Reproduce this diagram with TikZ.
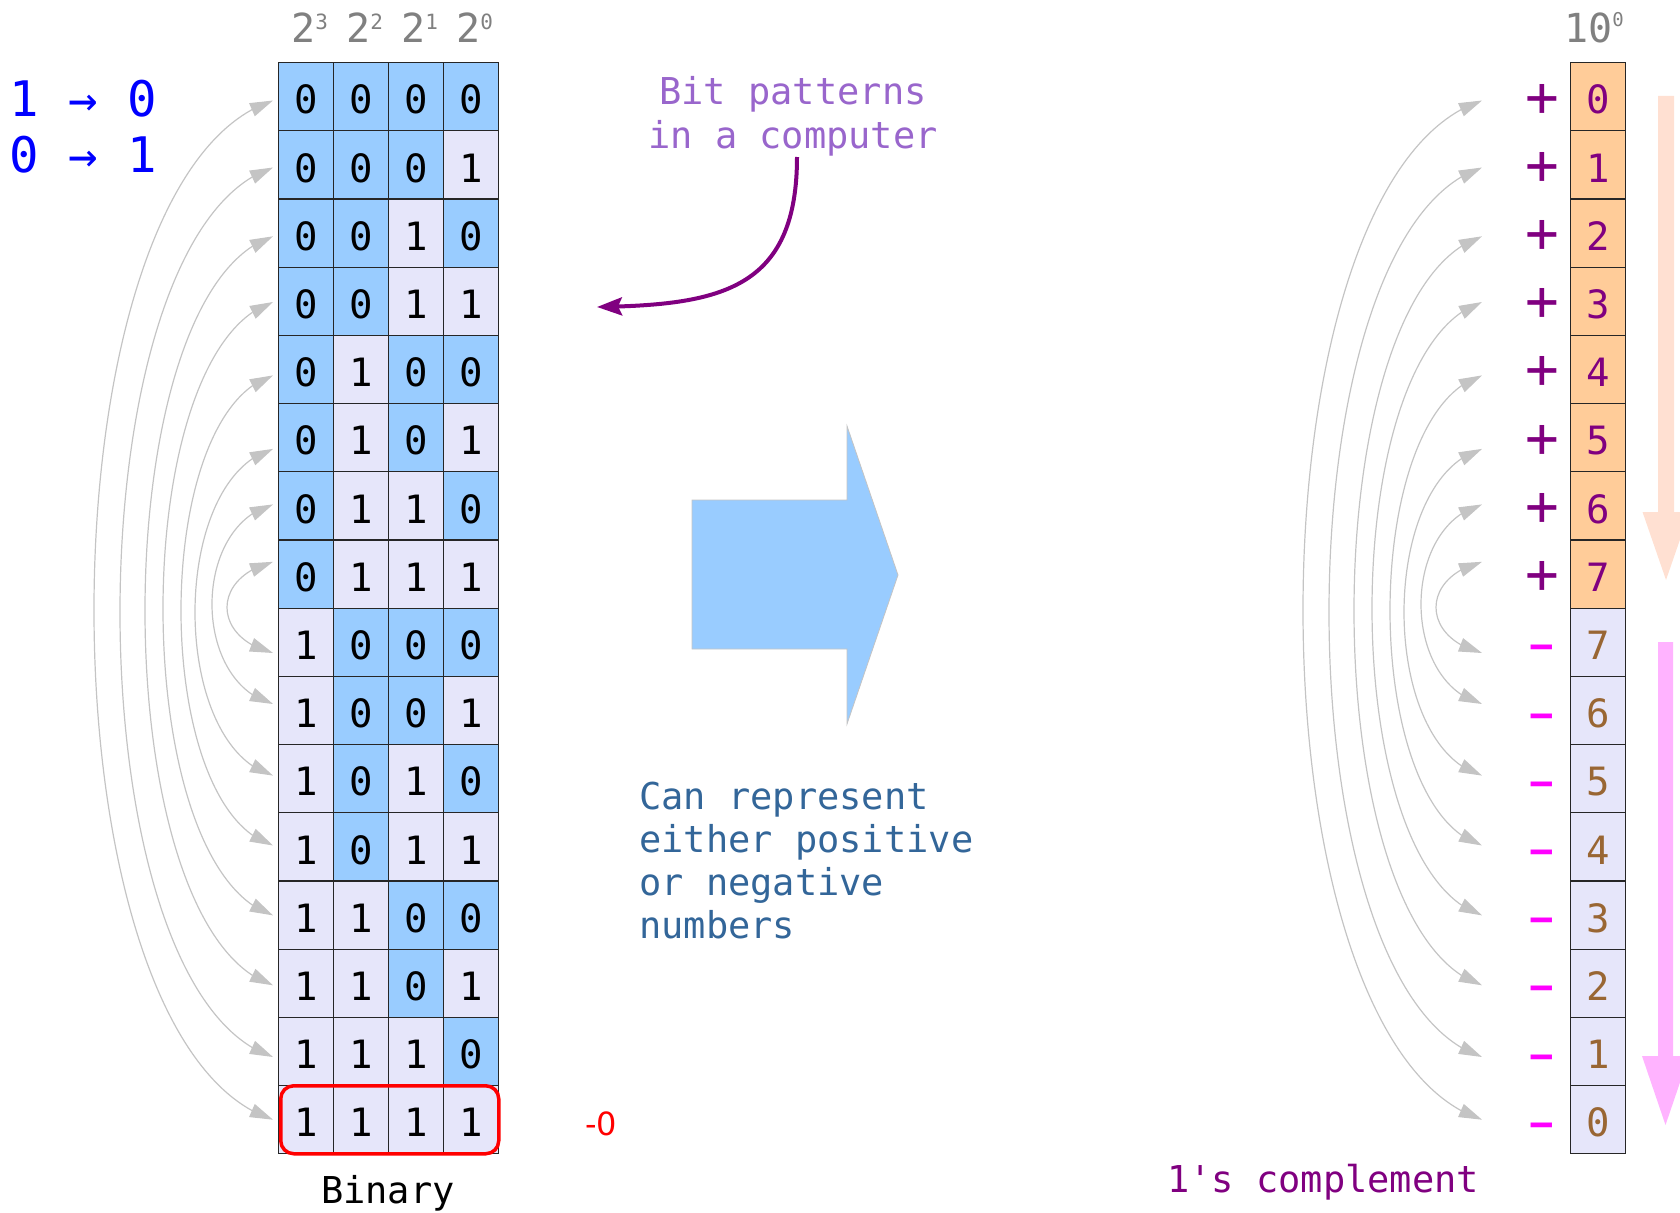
\documentclass[tikz,border=0pt]{standalone}
\usepackage{fontspec}
\usetikzlibrary{arrows.meta,calc,bending}
\newfontfamily\monofont{DejaVu Sans Mono}
\newfontfamily\sansfont{DejaVu Sans}
\newcommand\myfs[1]{\fontsize{#1}{#1}\selectfont}
\definecolor{cellblue}{HTML}{99CCFF}
\definecolor{celllav}{HTML}{E6E6FA}
\definecolor{cellorange}{HTML}{FFCC99}
\definecolor{digpurple}{HTML}{800080}
\definecolor{digbrown}{HTML}{996633}
\definecolor{notepurple}{HTML}{9966CC}
\definecolor{noteblue}{HTML}{336699}
\definecolor{arcgray}{HTML}{C4C4C4}
\definecolor{peach}{HTML}{FFE0D2}
\definecolor{pinkarrow}{HTML}{FFB3FF}
\definecolor{headgray}{HTML}{808080}
\definecolor{minusmag}{HTML}{FF00FF}
\begin{document}
\begin{tikzpicture}[x=1pt,y=-1pt,
  cellbox/.style={draw=black!85, line width=1.2pt, minimum width=55pt, minimum height=68.2pt, inner sep=0pt, anchor=north west},
  digit/.style={font=\monofont\myfs{39}, inner sep=0pt},
  signtxt/.style={font=\monofont\myfs{56}, inner sep=0pt},
  headtxt/.style={font=\monofont\myfs{40}, text=headgray, inner sep=0pt, anchor=base west},
  notetxt/.style={font=\monofont\myfs{37}, inner sep=0pt},
  arcline/.style={draw=arcgray, line width=1.2pt, arrows={Triangle[length=23pt,width=14pt,flex]-Triangle[length=23pt,width=14pt,flex]}}
]
\useasboundingbox (0,0) rectangle (1680,1212);
\clip (0,0) rectangle (1680,1212);

% ---------- binary grid ----------
\foreach \r in {0,...,15}{
  \foreach \c in {0,...,3}{
    \pgfmathtruncatemacro\bit{mod(floor(\r/2^(3-\c)),2)}
    \def\cellcol{cellblue}
    \ifnum\bit=1 \def\cellcol{celllav}\fi
    \node[cellbox, fill=\cellcol] (g\r-\c) at ({278+55*\c},{62+68.2*\r}) {};
    \node[digit] at ($(g\r-\c.center)+(0,3)$) {\bit};
  }
}
% headers
\foreach \c/\e in {0/3,1/2,2/1,3/0}{
  \node[headtxt] (h\c) at ({291+55*\c},43) {2\raisebox{13pt}{\myfs{21}\e}};
}
% red box around -0 pattern
\node[draw=red, line width=3.5pt, rounded corners=13pt, minimum width=218pt, minimum height=68pt, inner sep=0pt, anchor=north west] (negzero) at (279,1084) {};
\node[font=\sansfont\myfs{32}, text=red, anchor=base west, inner sep=0pt] (mz) at (585,1135) {-0};
\node[notetxt, anchor=base] (binlbl) at (388,1203) {Binary};

% ---------- left flip rule ----------
\node[font=\monofont\myfs{49}, text=blue, anchor=base west, inner sep=0pt] (r1) at (9,117) {1 → 0};
\node[font=\monofont\myfs{49}, text=blue, anchor=base west, inner sep=0pt] (r2) at (9,172) {0 → 1};

% ---------- decimal column ----------
\foreach \r in {0,...,15}{
  \pgfmathsetmacro\yc{62+68.2*\r+34.1}
  \ifnum\r<8
    \node[cellbox, fill=cellorange] (d\r) at (1570,{62+68.2*\r}) {};
    \node[digit, text=digpurple] at ($(d\r.center)+(0,3)$) {\r};
    \node[signtxt, text=digpurple] (s\r) at (1542,{\yc+4}) {+};
  \else
    \pgfmathtruncatemacro\v{15-\r}
    \node[cellbox, fill=celllav] (d\r) at (1570,{62+68.2*\r}) {};
    \node[digit, text=digbrown] at ($(d\r.center)+(0,3)$) {\v};
    \node[signtxt, text=minusmag] (s\r) at (1542,{\yc+13}) {\scalebox{1.5}[1.05]{-}};
  \fi
}
\node[headtxt] (hd) at (1564,43) {10\raisebox{16pt}{\myfs{19}0}};
\node[notetxt, text=digpurple, anchor=base] (onesc) at (1323,1192) {1's complement};

% ---------- mirror arcs ----------
\foreach \k/\yt/\yb/\d/\ang in {0/100.5/1119.7/179/18, 1/167.5/1057/153/18, 2/236.3/985.3/128/18, 3/302/915.4/110/18, 4/375.4/845.5/92/17, 5/448.9/775.6/78/16, 6/504.4/704/61/15, 7/561.8/653/46/14}{
  \pgfmathsetmacro\a{\d/0.75}
  \pgfmathsetmacro\b{\a*tan(\ang)}
  \coordinate (LT\k) at (273,\yt);
  \coordinate (LB\k) at (273,\yb);
  \coordinate (RT\k) at (1482,\yt);
  \coordinate (RB\k) at (1482,\yb);
  \draw[arcline] (LT\k) .. controls ($(LT\k)+(-\a,\b)$) and ($(LB\k)+(-\a,-\b)$) .. (LB\k);
  \draw[arcline] (RT\k) .. controls ($(RT\k)+(-\a,\b)$) and ($(RB\k)+(-\a,-\b)$) .. (RB\k);
}

% ---------- notes ----------
\node[notetxt, text=notepurple, anchor=base] (bp1) at (793,105) {Bit patterns};
\node[notetxt, text=notepurple, anchor=base] (bp2) at (793,148) {in a computer};
\coordinate (bpstart) at (797,157);
\coordinate (bpend) at (597,307);
\draw[digpurple, line width=4pt, -{Stealth[length=25pt,width=18pt,inset=4pt]}] (bpstart) .. controls (797,290) and (720,305) .. (bpend);

\node[notetxt, text=noteblue, anchor=base west] (cr1) at (639,809) {Can represent};
\node[notetxt, text=noteblue, anchor=base west] (cr2) at (639,852) {either positive};
\node[notetxt, text=noteblue, anchor=base west] (cr3) at (639,895) {or negative};
\node[notetxt, text=noteblue, anchor=base west] (cr4) at (639,938) {numbers};

% ---------- big arrow ----------
\filldraw[fill=cellblue, draw=arcgray, line width=0.8pt] (692,500) -- (847,500) -- (847,426) -- (898,575) -- (847,724) -- (847,649) -- (692,649) -- cycle;

% ---------- direction arrows on right ----------
\fill[peach] (1658,96) -- (1674,96) -- (1674,512) -- (1689.5,512) -- (1666,580) -- (1642.5,512) -- (1658,512) -- cycle;
\fill[pinkarrow] (1658,642) -- (1673,642) -- (1673,1056) -- (1689,1056) -- (1665.5,1125) -- (1642,1056) -- (1658,1056) -- cycle;
\end{tikzpicture}
\end{document}
